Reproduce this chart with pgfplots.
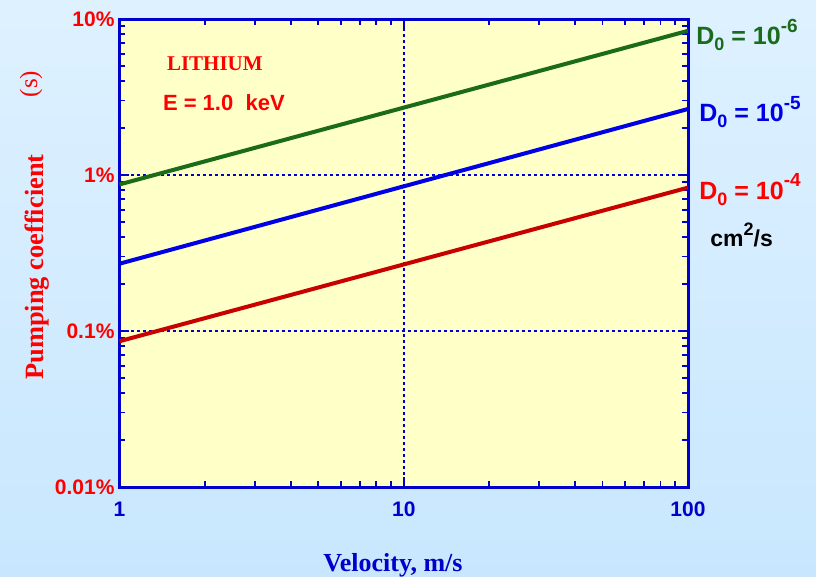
\documentclass[border=0pt]{standalone}
\usepackage{fontspec}
\setmainfont{Liberation Serif}
\setsansfont{Liberation Sans}
\usepackage{pgfplots}
\pgfplotsset{compat=1.18}

\definecolor{bgtop}{HTML}{DEF1FF}
\definecolor{bgbot}{HTML}{C8E7FE}
\definecolor{plotbg}{HTML}{FFFFC8}
\definecolor{frameblue}{HTML}{0000CC}
\definecolor{dgreen}{HTML}{1A6B1A}
\definecolor{lblue}{HTML}{0000E6}
\definecolor{dred}{HTML}{C80000}
\definecolor{lred}{HTML}{FF0000}

% D_0 = 10^n label with a low subscript and a high exponent
\newcommand{\Dlabel}[1]{D\raisebox{-0.45ex}{\fontsize{9}{10}\selectfont 0} = 10\raisebox{0.95ex}{\fontsize{9.5}{10}\selectfont -#1}}

\begin{document}
\begin{tikzpicture}[x=1pt,y=1pt]
% page background
\shade[top color=bgtop,bottom color=bgbot] (0,0) rectangle (408,288.5);

\begin{axis}[
  at={(59.75pt,45pt)}, anchor=south west,
  scale only axis, width=284.25pt, height=234pt,
  xmode=log, ymode=log,
  xmin=1, xmax=100, ymin=0.01, ymax=10,
  axis background/.style={fill=plotbg},
  axis line style={frameblue, line width=1.5pt},
  tick align=inside,
  tick style={frameblue, line width=0.9pt},
  major tick length=5pt, minor tick length=3pt,
  xtick={1,10,100}, xticklabels={1,10,100},
  minor xtick={2,3,4,5,6,7,8,9,20,30,40,50,60,70,80,90},
  ytick={0.01,0.1,1,10}, yticklabels={0.01\%,0.1\%,1\%,10\%},
  minor ytick={0.02,0.03,0.04,0.05,0.06,0.07,0.08,0.09,0.2,0.3,0.4,0.5,0.6,0.7,0.8,0.9,2,3,4,5,6,7,8,9},
  /pgf/number format/assume math mode=true,
  yticklabel style={lred, font=\sffamily\bfseries\fontsize{10.5}{12}\selectfont, xshift=1pt},
  xticklabel style={frameblue, font=\sffamily\bfseries\fontsize{10.5}{12}\selectfont, yshift=-4pt},
  xmajorgrids, ymajorgrids,
  every major grid/.style={draw=frameblue, line width=1.1pt, dash pattern=on 1.5pt off 1.5pt},
]
\addplot[dgreen, line width=2pt] coordinates {(1,0.87) (100,8.4)};
\addplot[lblue, line width=2pt] coordinates {(1,0.27) (100,2.65)};
\addplot[dred, line width=2pt] coordinates {(1,0.086) (100,0.83)};
\end{axis}

% annotations inside the plot area
\node[anchor=base west, lred, font=\rmfamily\bfseries\fontsize{10.5}{12}\selectfont, inner sep=0pt] at (83.3,253) {LITHIUM};
\node[anchor=base west, lred, font=\sffamily\bfseries\fontsize{11}{13}\selectfont, inner sep=0pt] at (81.3,233) {E = 1.0~~keV};

% curve labels on the right
\node[anchor=base west, dgreen, font=\sffamily\bfseries\fontsize{12.5}{14}\selectfont, inner sep=0pt] at (348,266) {\Dlabel{6}};
\node[anchor=base west, lblue, font=\sffamily\bfseries\fontsize{12.5}{14}\selectfont, inner sep=0pt] at (349.5,227.6) {\Dlabel{5}};
\node[anchor=base west, lred, font=\sffamily\bfseries\fontsize{12.5}{14}\selectfont, inner sep=0pt] at (349.5,188.85) {\Dlabel{4}};
\node[anchor=base west, black, font=\sffamily\bfseries\fontsize{11.5}{13}\selectfont, inner sep=0pt] at (355,165.2) {cm\raisebox{0.95ex}{\fontsize{9}{10}\selectfont 2}/s};

% axis titles
\node[rotate=90, anchor=base, lred, font=\rmfamily\bfseries\fontsize{13.2}{15}\selectfont, inner sep=0pt] at (21.5,155) {Pumping coefficient};
\node[rotate=90, anchor=center, lred, font=\rmfamily\fontsize{12.5}{14}\selectfont, inner sep=0pt] at (15.5,246.5) {(s)};
\node[anchor=base, frameblue, font=\rmfamily\bfseries\fontsize{13}{15}\selectfont, inner sep=0pt] at (196.5,2.5) {Velocity, m/s};
\end{tikzpicture}
\end{document}
